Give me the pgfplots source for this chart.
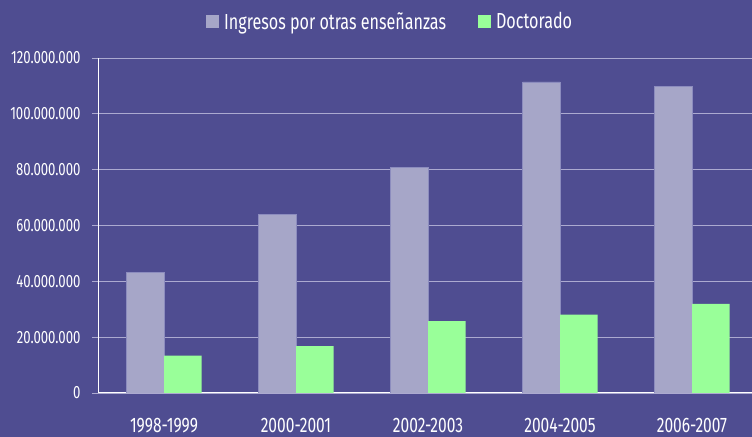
\documentclass[border=0pt]{standalone}
\usepackage{fontspec}
\setmainfont{Fira Sans}[FakeStretch=0.74]
\usepackage{pgfplots}
\pgfplotsset{compat=1.18}
\definecolor{bgpurple}{RGB}{79,77,145}
\definecolor{barlav}{RGB}{166,166,200}
\definecolor{barlavedge}{RGB}{140,140,190}
\definecolor{bargreen}{RGB}{153,255,153}
\definecolor{gridlav}{RGB}{172,170,208}
\begin{document}
\begin{tikzpicture}[x=1bp,y=1bp]
\fill[bgpurple] (0,0) rectangle (752,437);
\useasboundingbox (0,0) rectangle (752,437);
\begin{axis}[
  at={(98bp,44bp)}, anchor=south west,
  scale only axis, width=660bp, height=335bp,
  xmin=-0.5, xmax=4.5,
  ymin=0, ymax=120000000,
  ybar=0pt, bar width=37.5bp,
  axis lines*=left,
  axis line style={white, line width=1pt, -},
  tick align=outside,
  ytick={0,20000000,...,120000000},
  ymajorgrids, grid style={gridlav, line width=0.9pt},
  ytick style={gridlav, line width=0.9pt},
  major tick length=6bp,
  xtick={0,1,2,3,4},
  xticklabels={1998-1999,2000-2001,2002-2003,2004-2005,2006-2007},
  xtick style={draw=none},
  extra x ticks={-0.5,0.5,1.5,2.5,3.5},
  extra x tick labels={},
  extra x tick style={xtick style={gridlav, line width=0.9pt}, major tick length=6bp},
  scaled y ticks=false,
  yticklabel={\pgfmathprintnumber[fixed, 1000 sep={.}, assume math mode=true]{\tick}},
  yticklabel style={font=\fontsize{17.8bp}{20bp}\selectfont, text=white, xshift=-8bp},
  xticklabel style={font=\fontsize{21bp}{23bp}\selectfont, text=white, yshift=-16bp},
  legend style={at={(axis description cs:0.1636,1.109)}, anchor=west,
    draw=none, fill=none, text=white, font=\fontsize{21.8bp}{24bp}\selectfont,
    legend cell align=left, inner sep=0pt,
    /tikz/every even column/.append style={column sep=30bp}},
  legend columns=2,
  legend image code/.code={\fill[#1, draw=none] (0bp,-6.5bp) rectangle (13bp,6.5bp);
    \path[draw=none, fill=none] (0bp,0bp) -- (16bp,0bp);},
]
\addplot[fill=barlav, draw=barlavedge, line width=0.6pt] coordinates {
(0,43200000) (1,64100000) (2,80800000) (3,111400000) (4,109900000)};
\addplot[fill=bargreen, draw=none] coordinates {
(0,13400000) (1,16800000) (2,25700000) (3,28100000) (4,31900000)};
\legend{Ingresos por otras enseñanzas, Doctorado}
\end{axis}
\end{tikzpicture}
\end{document}
